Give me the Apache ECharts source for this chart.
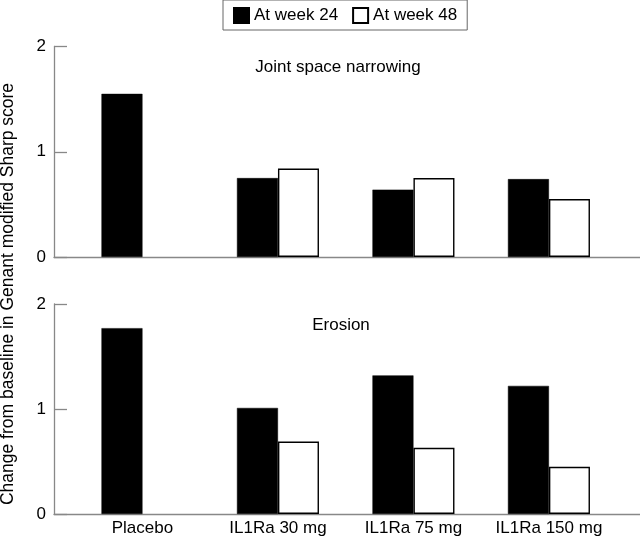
<!DOCTYPE html>
<html>
<head>
<meta charset="utf-8">
<script src="https://cdn.jsdelivr.net/npm/echarts@6/dist/echarts.min.js"></script>
<style>html,body{margin:0;padding:0;background:#fff}#c{width:640px;height:537px}</style>
</head>
<body>
<div id="c"></div>
<script>
const categories = ['Placebo', 'IL1Ra 30 mg', 'IL1Ra 75 mg', 'IL1Ra 150 mg'];
const seriesNames = ['At week 24', 'At week 48'];
const jsnWeek24 = [1.55, 0.75, 0.64, 0.74];
const jsnWeek48 = [null, 0.84, 0.75, 0.55];
const eroWeek24 = [1.77, 1.01, 1.32, 1.22];
const eroWeek48 = [null, 0.69, 0.63, 0.45];
const yTicks = [0, 1, 2];
const panelTitles = ['Joint space narrowing', 'Erosion'];
const yTitle = 'Change from baseline in Genant modified Sharp score';

const FONT = 'Liberation Sans, Arial, Helvetica, sans-serif';
const toPts = arr => arr.map((v, i) => [i, v === null ? '-' : v]);

const chart = echarts.init(document.getElementById('c'), null, {renderer: 'canvas'});

function xAxis(gridIndex, showLabels) {
  return {
    type: 'value', gridIndex, min: -0.653, max: 3.672,
    splitLine: {show: false},
    axisLine: {show: true, onZero: false, lineStyle: {color: '#888', width: 1.3}},
    axisTick: {show: false},
    axisLabel: {
      show: showLabels, customValues: [0, 1, 2, 3], margin: 6,
      color: '#000', fontSize: 17, fontFamily: FONT,
      formatter: v => categories[Math.round(v)] || ''
    }
  };
}
function yAxis(gridIndex) {
  return {
    type: 'value', gridIndex, min: 0, max: 2, interval: 1,
    splitLine: {show: false},
    axisLine: {show: true, onZero: false, lineStyle: {color: '#888', width: 1.3}},
    axisTick: {show: true, inside: true, length: 13, lineStyle: {color: '#888', width: 1.3}},
    axisLabel: {color: '#000', fontSize: 17, fontFamily: FONT, margin: 8,
      formatter: v => yTicks.includes(v) ? String(v) : ''}
  };
}
const blackStyle = {color: '#000', borderColor: '#000', borderWidth: 0.5};
const whiteStyle = {color: '#fff', borderColor: '#000', borderWidth: 1.4};
function bar(name, data, idx, style) {
  return {
    name, type: 'bar', xAxisIndex: idx, yAxisIndex: idx,
    data: toPts(data), barWidth: 41, barGap: '0%',
    itemStyle: style, emphasis: {disabled: true}, animation: false
  };
}

chart.setOption({
  animation: false,
  grid: [
    {left: 54, top: 46.5, height: 210.5, right: 0},
    {left: 54, top: 304, height: 211, right: 0}
  ],
  legend: {
    data: seriesNames, left: 223, top: 0, icon: 'rect',
    orient: 'horizontal', itemWidth: 15, itemHeight: 15, itemGap: 14,
    borderColor: '#666', borderWidth: 1, padding: [7, 10, 6, 10],
    textStyle: {color: '#000', fontSize: 17, fontFamily: FONT},
    selectedMode: false
  },
  xAxis: [xAxis(0, false), xAxis(1, true)],
  yAxis: [yAxis(0), yAxis(1)],
  series: [
    bar(seriesNames[0], jsnWeek24, 0, blackStyle),
    bar(seriesNames[1], jsnWeek48, 0, whiteStyle),
    bar(seriesNames[0], eroWeek24, 1, blackStyle),
    bar(seriesNames[1], eroWeek48, 1, whiteStyle)
  ],
  graphic: [
    {type: 'text', x: 338, y: 67, style: {text: panelTitles[0], fill: '#000', font: '17px ' + FONT, textAlign: 'center', textVerticalAlign: 'middle'}},
    {type: 'text', x: 341, y: 325, style: {text: panelTitles[1], fill: '#000', font: '17px ' + FONT, textAlign: 'center', textVerticalAlign: 'middle'}},
    {type: 'text', x: 8, y: 294, rotation: Math.PI / 2, style: {text: yTitle, fill: '#000', font: '17.5px ' + FONT, textAlign: 'center', textVerticalAlign: 'middle'}}
  ]
});
</script>
</body>
</html>
